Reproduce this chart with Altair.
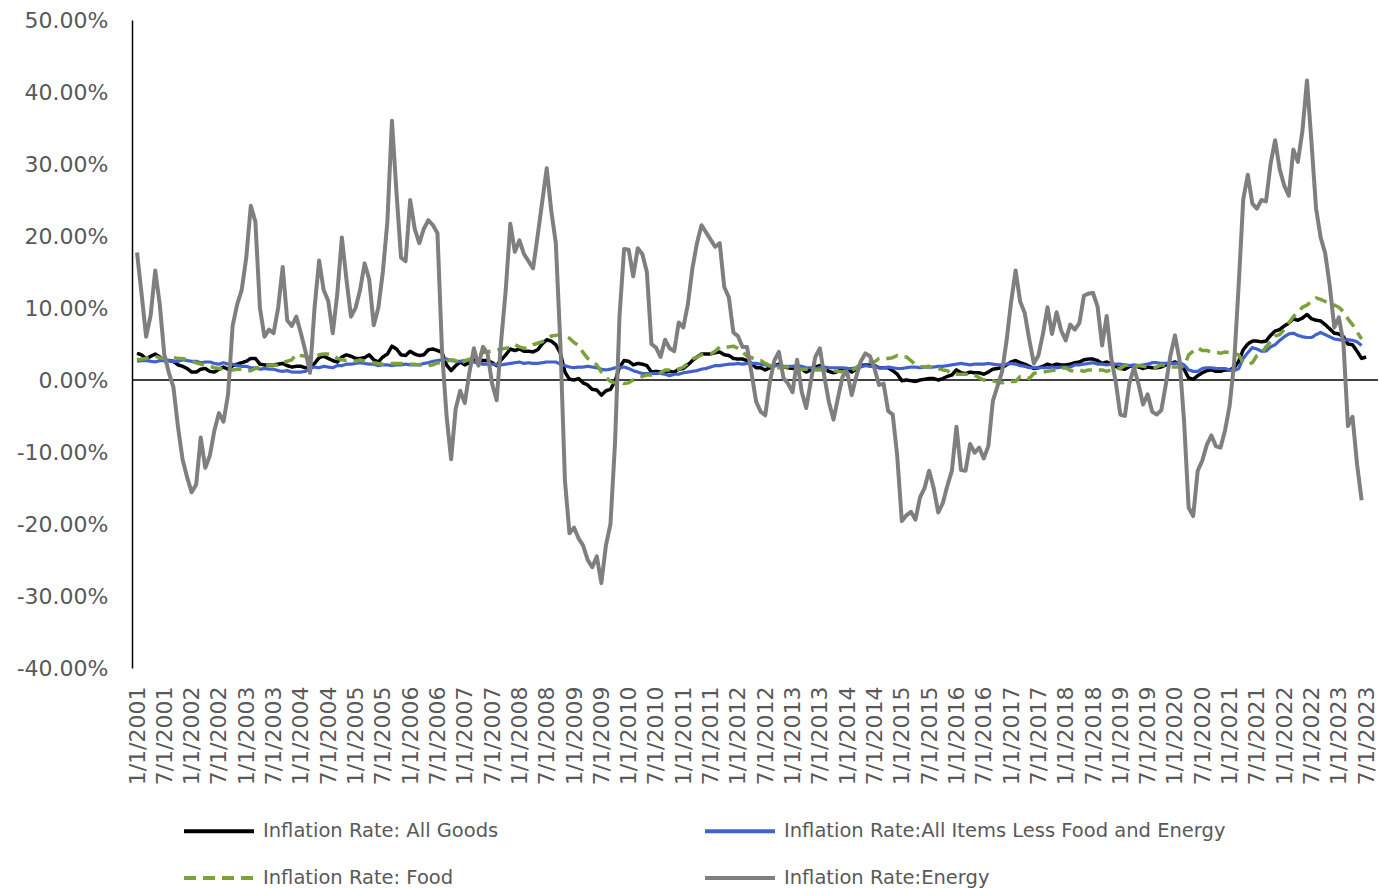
import altair as alt
import pandas as pd

# Monthly year-over-year inflation rates (percent), starting January 2001.
all_goods = [
    3.7, 3.5, 2.9, 3.3, 3.6, 3.2, 2.7, 2.7, 2.6, 2.1, 1.9, 1.6,      # 2001
    1.1, 1.1, 1.5, 1.6, 1.2, 1.1, 1.5, 1.8, 1.5, 2.0, 2.2, 2.4,      # 2002
    2.6, 3.0, 3.0, 2.2, 2.1, 2.1, 2.1, 2.2, 2.3, 2.0, 1.8, 1.9,      # 2003
    1.9, 1.7, 1.7, 2.3, 3.1, 3.3, 3.0, 2.7, 2.5, 3.2, 3.5, 3.3,      # 2004
    3.0, 3.0, 3.1, 3.5, 2.8, 2.5, 3.2, 3.6, 4.7, 4.3, 3.5, 3.4,      # 2005
    4.0, 3.6, 3.4, 3.5, 4.2, 4.3, 4.1, 3.8, 2.1, 1.3, 2.0, 2.5,      # 2006
    2.1, 2.4, 2.8, 2.6, 2.7, 2.7, 2.4, 2.0, 2.8, 3.5, 4.3, 4.1,      # 2007
    4.3, 4.0, 4.0, 3.9, 4.2, 5.0, 5.6, 5.4, 4.9, 3.7, 1.1, 0.1,      # 2008
    0.0, 0.2, -0.4, -0.7, -1.3, -1.4, -2.1, -1.5, -1.3, -0.2, 1.8, 2.7,  # 2009
    2.6, 2.1, 2.3, 2.2, 2.0, 1.1, 1.2, 1.1, 1.1, 1.2, 1.1, 1.5,      # 2010
    1.6, 2.1, 2.7, 3.2, 3.6, 3.6, 3.6, 3.8, 3.9, 3.5, 3.4, 3.0,      # 2011
    2.9, 2.9, 2.7, 2.3, 1.7, 1.7, 1.4, 1.7, 2.0, 2.2, 1.8, 1.7,      # 2012
    1.6, 2.0, 1.5, 1.1, 1.4, 1.8, 2.0, 1.5, 1.2, 1.0, 1.2, 1.5,      # 2013
    1.6, 1.1, 1.5, 2.0, 2.1, 2.1, 2.0, 1.7, 1.7, 1.7, 1.3, 0.8,      # 2014
    -0.1, 0.0, -0.1, -0.2, 0.0, 0.1, 0.2, 0.2, 0.0, 0.2, 0.5, 0.7,   # 2015
    1.4, 1.0, 0.9, 1.1, 1.0, 1.0, 0.8, 1.1, 1.5, 1.6, 1.7, 2.1,      # 2016
    2.5, 2.7, 2.4, 2.2, 1.9, 1.6, 1.7, 1.9, 2.2, 2.0, 2.2, 2.1,      # 2017
    2.1, 2.2, 2.4, 2.5, 2.8, 2.9, 2.9, 2.7, 2.3, 2.5, 2.2, 1.9,      # 2018
    1.6, 1.5, 1.9, 2.0, 1.8, 1.6, 1.8, 1.7, 1.7, 1.8, 2.1, 2.3,      # 2019
    2.5, 2.3, 1.5, 0.3, 0.1, 0.6, 1.0, 1.3, 1.4, 1.2, 1.2, 1.4,      # 2020
    1.4, 1.7, 2.6, 4.2, 5.0, 5.4, 5.4, 5.3, 5.4, 6.2, 6.8, 7.0,      # 2021
    7.5, 7.9, 8.5, 8.3, 8.6, 9.1, 8.5, 8.3, 8.2, 7.7, 7.1, 6.5,      # 2022
    6.4, 6.0, 5.0, 4.9, 4.0, 3.0, 3.2,                               # 2023
]

core = [
    2.6, 2.7, 2.7, 2.6, 2.5, 2.7, 2.7, 2.7, 2.6, 2.6, 2.8, 2.7,      # 2001
    2.6, 2.6, 2.4, 2.5, 2.5, 2.3, 2.2, 2.4, 2.2, 2.2, 2.0, 1.9,      # 2002
    1.9, 1.7, 1.7, 1.5, 1.6, 1.5, 1.5, 1.3, 1.2, 1.3, 1.1, 1.1,      # 2003
    1.1, 1.2, 1.6, 1.8, 1.7, 1.9, 1.8, 1.7, 2.0, 2.0, 2.2, 2.2,      # 2004
    2.3, 2.4, 2.3, 2.2, 2.2, 2.0, 2.1, 2.1, 2.0, 2.1, 2.1, 2.2,      # 2005
    2.1, 2.1, 2.1, 2.3, 2.4, 2.6, 2.7, 2.8, 2.9, 2.7, 2.6, 2.6,      # 2006
    2.7, 2.7, 2.5, 2.3, 2.2, 2.2, 2.2, 2.1, 2.1, 2.2, 2.3, 2.4,      # 2007
    2.5, 2.3, 2.4, 2.3, 2.3, 2.4, 2.5, 2.5, 2.5, 2.2, 2.0, 1.8,      # 2008
    1.7, 1.8, 1.8, 1.9, 1.8, 1.7, 1.5, 1.4, 1.5, 1.7, 1.7, 1.8,      # 2009
    1.6, 1.3, 1.1, 0.9, 0.9, 0.9, 0.9, 0.9, 0.8, 0.6, 0.8, 0.8,      # 2010
    1.0, 1.1, 1.2, 1.3, 1.5, 1.6, 1.8, 2.0, 2.0, 2.1, 2.2, 2.2,      # 2011
    2.3, 2.2, 2.3, 2.3, 2.3, 2.2, 2.1, 1.9, 2.0, 2.0, 1.9, 1.9,      # 2012
    1.9, 2.0, 1.9, 1.7, 1.7, 1.6, 1.7, 1.8, 1.7, 1.7, 1.7, 1.7,      # 2013
    1.6, 1.6, 1.7, 1.8, 2.0, 1.9, 1.9, 1.7, 1.7, 1.8, 1.7, 1.6,      # 2014
    1.6, 1.7, 1.8, 1.8, 1.7, 1.8, 1.8, 1.8, 1.9, 1.9, 2.0, 2.1,      # 2015
    2.2, 2.3, 2.2, 2.1, 2.2, 2.2, 2.2, 2.3, 2.2, 2.1, 2.1, 2.2,      # 2016
    2.3, 2.2, 2.0, 1.9, 1.7, 1.7, 1.7, 1.7, 1.7, 1.8, 1.7, 1.8,      # 2017
    1.8, 1.8, 2.1, 2.1, 2.2, 2.3, 2.4, 2.2, 2.2, 2.1, 2.2, 2.2,      # 2018
    2.2, 2.1, 2.0, 2.1, 2.0, 2.1, 2.2, 2.4, 2.4, 2.3, 2.3, 2.3,      # 2019
    2.3, 2.4, 2.1, 1.4, 1.2, 1.2, 1.6, 1.7, 1.7, 1.6, 1.6, 1.6,      # 2020
    1.4, 1.3, 1.6, 3.0, 3.8, 4.5, 4.3, 4.0, 4.0, 4.6, 4.9, 5.5,      # 2021
    6.0, 6.4, 6.5, 6.2, 6.0, 5.9, 5.9, 6.3, 6.6, 6.3, 6.0, 5.7,      # 2022
    5.6, 5.5, 5.6, 5.5, 5.3, 4.8,                                    # 2023
]

food = [
    2.8, 2.9, 3.0, 3.2, 3.3, 3.1, 3.0, 3.2, 3.1, 3.0, 3.0, 2.8,      # 2001
    2.6, 2.4, 2.2, 2.1, 1.9, 1.7, 1.6, 1.5, 1.4, 1.4, 1.5, 1.5,      # 2002
    1.3, 1.3, 1.6, 1.8, 2.0, 2.1, 2.1, 2.0, 2.4, 2.6, 2.8, 3.6,      # 2003
    3.4, 3.3, 3.1, 3.0, 3.5, 3.6, 3.6, 3.5, 3.0, 2.8, 2.7, 2.7,      # 2004
    2.6, 2.8, 2.6, 2.6, 2.4, 2.3, 2.2, 2.2, 2.3, 2.3, 2.3, 2.3,      # 2005
    2.2, 2.2, 2.1, 2.0, 2.0, 2.1, 2.4, 2.3, 2.6, 2.8, 2.7, 2.1,      # 2006
    2.7, 2.9, 3.0, 3.4, 3.8, 3.9, 4.1, 4.1, 4.3, 4.4, 4.5, 4.9,      # 2007
    4.6, 4.4, 4.5, 4.9, 5.1, 5.3, 5.8, 6.1, 6.2, 6.3, 6.1, 5.8,      # 2008
    5.2, 4.8, 3.8, 3.0, 2.6, 2.1, 1.1, 0.4, -0.2, -0.4, -0.1, -0.5,  # 2009
    -0.4, 0.0, 0.2, 0.5, 0.7, 0.7, 0.9, 1.0, 1.4, 1.4, 1.4, 1.5,     # 2010
    1.8, 2.3, 2.9, 3.2, 3.5, 3.7, 3.6, 4.0, 4.6, 4.6, 4.6, 4.7,      # 2011
    4.4, 3.9, 3.3, 3.1, 2.8, 2.7, 2.3, 2.0, 1.6, 1.7, 1.8, 1.8,      # 2012
    1.6, 1.6, 1.5, 1.5, 1.4, 1.4, 1.4, 1.4, 1.4, 1.3, 1.2, 1.1,      # 2013
    1.3, 1.3, 1.7, 2.3, 2.5, 2.5, 2.5, 3.0, 3.0, 3.0, 3.1, 3.4,      # 2014
    3.2, 3.2, 2.7, 2.1, 1.9, 1.8, 1.9, 1.5, 1.6, 1.4, 1.3, 0.8,      # 2015
    0.8, 0.8, 0.8, 0.7, 0.7, 0.3, 0.0, -0.1, -0.1, -0.3, -0.4, -0.2, # 2016
    -0.2, -0.2, 0.5, 0.5, 0.2, 0.9, 1.1, 1.1, 1.2, 1.3, 1.4, 1.6,    # 2017
    1.7, 1.3, 1.3, 1.4, 1.2, 1.4, 1.4, 1.4, 1.4, 1.2, 1.4, 1.6,      # 2018
    1.6, 2.0, 2.1, 1.8, 2.0, 1.9, 1.8, 1.7, 1.8, 2.1, 2.0, 1.8,      # 2019
    1.8, 1.8, 1.9, 3.5, 4.0, 4.5, 4.1, 4.1, 3.9, 3.9, 3.7, 3.9,      # 2020
    3.8, 3.6, 3.5, 2.4, 2.2, 2.4, 3.4, 3.7, 4.6, 5.3, 6.1, 6.3,      # 2021
    7.0, 7.9, 8.8, 9.4, 10.1, 10.4, 10.9, 11.4, 11.2, 10.9, 10.6, 10.4,  # 2022
    10.1, 9.5, 8.5, 7.7, 6.7, 5.7,                                   # 2023
]

energy = [
    17.7, 12.0, 6.0, 9.0, 15.2, 10.5, 3.5, 1.0, -1.0, -6.5, -11.0, -13.5,       # 2001
    -15.6, -14.5, -8.0, -12.2, -10.5, -7.0, -4.6, -5.8, -2.0, 7.5, 10.5, 12.5,  # 2002
    17.0, 24.2, 22.0, 10.0, 6.0, 7.0, 6.5, 10.0, 15.7, 8.3, 7.5, 8.8,           # 2003
    6.5, 4.0, 1.0, 10.0, 16.6, 12.5, 11.0, 6.5, 12.0, 19.8, 14.0, 8.8,          # 2004
    10.0, 12.5, 16.2, 14.0, 7.6, 10.0, 15.0, 22.0, 36.0, 26.0, 17.0, 16.5,      # 2005
    25.0, 21.0, 19.0, 21.0, 22.2, 21.5, 20.4, 4.0, -5.0, -11.0, -4.0, -1.5,     # 2006
    -3.2, 1.0, 4.4, 2.0, 4.6, 3.7, -0.5, -2.8, 5.5, 12.5, 21.7, 17.8,           # 2007
    19.4, 17.5, 16.5, 15.5, 20.0, 24.7, 29.4, 23.5, 19.0, 5.0, -14.0, -21.3,    # 2008
    -20.5, -22.0, -23.0, -25.0, -26.0, -24.5, -28.2, -23.0, -20.0, -8.8, 9.0, 18.2,  # 2009
    18.1, 14.4, 18.3, 17.5, 15.0, 5.0, 4.5, 3.2, 5.6, 4.4, 4.0, 8.0,            # 2010
    7.3, 10.5, 15.5, 19.0, 21.5, 20.5, 19.5, 18.5, 19.0, 12.9, 11.5, 6.6,       # 2011
    6.1, 4.6, 4.6, 0.9, -3.0, -4.4, -4.9, -0.3, 2.7, 3.9, 0.3, -0.5,            # 2012
    -1.7, 2.8, -1.6, -3.9, -0.2, 3.2, 4.4, 0.4, -3.1, -5.5, -2.4, 0.5,          # 2013
    1.1, -2.1, 0.5, 2.6, 3.7, 3.3, 1.6, -0.7, -0.5, -4.3, -4.8, -10.6,          # 2014
    -19.6, -18.8, -18.3, -19.4, -16.3, -15.0, -12.6, -15.0, -18.4, -17.1, -14.7, -12.6,  # 2015
    -6.5, -12.5, -12.6, -8.9, -10.1, -9.4, -10.9, -9.2, -2.9, -0.9, 1.1, 5.4,   # 2016
    10.8, 15.2, 10.9, 9.3, 5.6, 2.3, 3.4, 6.4, 10.1, 6.4, 9.4, 6.9,             # 2017
    5.5, 7.7, 7.0, 7.9, 11.7, 12.0, 12.1, 10.2, 4.8, 8.9, 3.1, -0.3,            # 2018
    -4.8, -5.0, -0.4, 1.7, -0.6, -3.4, -2.0, -4.4, -4.8, -4.2, -0.6, 3.4,       # 2019
    6.2, 2.8, -5.7, -17.7, -18.9, -12.6, -11.2, -9.0, -7.7, -9.2, -9.4, -7.0,   # 2020
    -3.6, 2.4, 13.2, 25.1, 28.5, 24.5, 23.8, 25.0, 24.8, 30.0, 33.3, 29.3,      # 2021
    27.0, 25.6, 32.0, 30.3, 34.6, 41.6, 32.9, 23.8, 19.8, 17.6, 13.1, 7.3,      # 2022
    8.7, 5.2, -6.4, -5.1, -11.7, -16.7,                                         # 2023
]

series_names = [
    "Inflation Rate: All Goods",
    "Inflation Rate:All Items Less Food and Energy",
    "Inflation Rate: Food",
    "Inflation Rate:Energy",
]
series_values = [all_goods, core, food, energy]
series_colors = ["#000000", "#4162CC", "#7BA23A", "#7F7F7F"]
series_dashes = [[1, 0], [1, 0], [12, 7], [1, 0]]
series_widths = [3.5, 3.2, 3.5, 4.0]

tick_months = list(range(0, 271, 6))
y_ticks = [-0.4, -0.3, -0.2, -0.1, 0.0, 0.1, 0.2, 0.3, 0.4, 0.5]

rows = []
for name, values in zip(series_names, series_values):
    for month, value in enumerate(values):
        rows.append({"month": month, "rate": value / 100.0, "series": name})
df = pd.DataFrame(rows)

FONT = "DejaVu Sans"
GREY = "#595959"

x_scale = alt.Scale(domain=[-1.1, 272.6], nice=False, zero=False)
y_scale = alt.Scale(domain=[-0.4, 0.5], nice=False, zero=False)

x_axis = alt.Axis(
    values=tick_months,
    labelExpr="(datum.value % 12 == 0 ? '1' : '7') + '/1/' + (2001 + floor(datum.value / 12))",
    labelAngle=270,
    labelFontSize=22,
    labelFont=FONT,
    labelColor=GREY,
    labelPadding=18,
    labelOverlap=False,
    labelFlush=False,
    labelBound=False,
    domain=False,
    ticks=False,
    grid=False,
    title=None,
)
y_axis = alt.Axis(
    values=y_ticks,
    labelExpr="replace(format(datum.value, '.2%'), '\u2212', '-')",
    labelFontSize=22,
    labelFont=FONT,
    labelColor=GREY,
    labelPadding=24,
    domainColor="#000000",
    domainWidth=1.5,
    ticks=False,
    grid=False,
    title=None,
)

legend = alt.Legend(
    orient="none",
    legendX=50,
    legendY=774,
    columns=2,
    direction="horizontal",
    title=None,
    symbolType="stroke",
    symbolSize=4900,
    symbolStrokeWidth=4,
    labelFont=FONT,
    labelFontSize=19.5,
    labelColor=GREY,
    labelOffset=7,
    labelLimit=0,
    columnPadding=198,
    rowPadding=0,
    padding=0,
)

color = alt.Color(
    "series:N",
    scale=alt.Scale(domain=series_names, range=series_colors),
    legend=legend,
)
dash = alt.StrokeDash(
    "series:N",
    scale=alt.Scale(domain=series_names, range=series_dashes),
    legend=legend,
)

zero_line = alt.Chart(pd.DataFrame({"rate": [0.0]})).mark_rule(
    color="#000000", strokeWidth=1.5
).encode(y=alt.Y("rate:Q", scale=y_scale, axis=y_axis))

layers = [zero_line]
for name, width in zip(series_names, series_widths):
    layers.append(
        alt.Chart(df)
        .transform_filter(alt.datum.series == name)
        .mark_line(strokeWidth=width, strokeJoin="round")
        .encode(
            x=alt.X("month:Q", scale=x_scale, axis=x_axis),
            y=alt.Y("rate:Q", scale=y_scale, axis=y_axis),
            color=color,
            strokeDash=dash,
        )
    )

chart = (
    alt.layer(*layers)
    .properties(
        width=1246,
        height=648,
        autosize=alt.AutoSizeParams(type="none"),
        padding={"left": 132, "top": 20, "right": 2, "bottom": 220},
        background="#ffffff",
    )
    .configure_view(stroke=None)
)

chart.save("out.html", embed_options={"renderer": "svg", "actions": False})
